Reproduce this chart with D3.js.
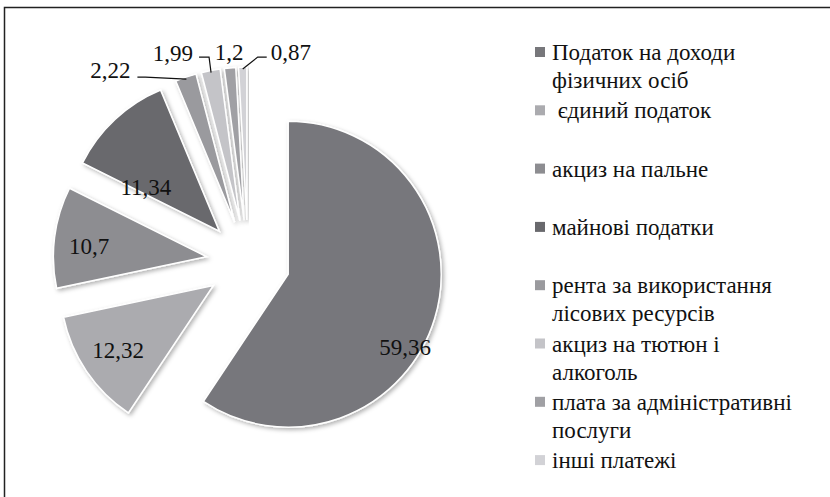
<!DOCTYPE html>
<html>
<head>
<meta charset="utf-8">
<script src="https://cdn.jsdelivr.net/npm/d3@7"></script>
</head>
<body style="margin:0">
<svg id="chart" width="830" height="497"></svg>
<script>
const categories = [
    'Податок на доходи фізичних осіб', ' єдиний податок', 'акциз на пальне', 'майнові податки',
    'рента за використання лісових ресурсів', 'акциз на тютюн і алкоголь',
    'плата за адміністративні послуги', 'інші платежі'
];
// legend wraps as in the original
const legendLines = [
    ['Податок на доходи', 'фізичних осіб'], ['\u00a0єдиний податок'], ['акциз на пальне'], ['майнові податки'],
    ['рента за використання', 'лісових ресурсів'], ['акциз на тютюн і', 'алкоголь'],
    ['плата за адміністративні', 'послуги'], ['інші платежі']
];
const values = [59.36, 12.32, 10.7, 11.34, 2.22, 1.99, 1.2, 0.87];
const valueLabels = ['59,36', '12,32', '10,7', '11,34', '2,22', '1,99', '1,2', '0,87'];
const colors = ['#77777b', '#ababaf', '#8d8d91', '#69696d', '#9a9a9e', '#c4c4c8', '#a0a0a4', '#d2d2d6'];

const FONT = 'Liberation Serif';
const svg = d3.select('#chart').style('display', 'block');
const [cx, cy] = [248, 262];
const radius = 153;
const explode = 42;

// frame
svg.append('rect')
    .attr('x', 4.5).attr('y', 7.5).attr('width', 840).attr('height', 500)
    .attr('fill', 'none').attr('stroke', '#222').attr('stroke-width', 1.5);

const defs = svg.append('defs');
defs.append('filter').attr('id', 'shadow')
    .attr('x', '-20%').attr('y', '-20%').attr('width', '140%').attr('height', '140%')
    .append('feDropShadow')
    .attr('dx', 2).attr('dy', 2).attr('stdDeviation', 2)
    .attr('flood-color', '#000').attr('flood-opacity', 0.3);

const pie = d3.pie().sort(null).value(d => d)(values);
const arc = d3.arc().innerRadius(0).outerRadius(radius);

const dir = a => [Math.sin(a), -Math.cos(a)];
const mid = d => (d.startAngle + d.endAngle) / 2;

const g = svg.append('g').attr('transform', `translate(${cx},${cy})`);

const slices = g.selectAll('g.slice')
    .data(pie)
    .join('g')
    .attr('class', 'slice')
    .attr('transform', d => {
        const [x, y] = dir(mid(d));
        return `translate(${x * explode},${y * explode})`;
    });

slices.append('path')
    .attr('d', arc)
    .attr('fill', (d, i) => colors[i])
    .attr('stroke', '#fff')
    .attr('stroke-width', 1.5)
    .attr('filter', 'url(#shadow)');

// label placement: inside ones along the bisector (fraction of radius, angle shift in degrees),
// outside ones offset from the rim point, with a leader line back to it
const labelLayout = [
    {k: 0.9, rot: 15}, {k: 0.75, rot: 0}, {k: 0.77, rot: -2}, {k: 0.56, rot: -16},
    {dx: -56, dy: -9, anchor: 'end', leader: [[-49, -2], [-41, -2]]},
    {dx: -18, dy: -20, anchor: 'end', leader: [[-12, -15.5], [-2, -15.5]]},
    {dx: -1, dy: -18, anchor: 'middle', leader: null},
    {dx: 28, dy: -17, anchor: 'start', leader: [[24, -12], [15, -12]]}
];

slices.each(function (d, i) {
    const s = d3.select(this);
    const L = labelLayout[i];
    const a = mid(d);
    const label = s.append('text')
        .attr('font-family', FONT)
        .style('font-family', `"${FONT}"`)
        .attr('font-size', 23)
        .attr('fill', '#111')
        .attr('dy', '0.35em')
        .text(valueLabels[i]);
    if (L.k !== undefined) {
        const [x, y] = dir(a + L.rot * Math.PI / 180);
        label.attr('x', x * radius * L.k)
            .attr('y', y * radius * L.k)
            .attr('text-anchor', 'middle');
    } else {
        const [ox, oy] = dir(a).map(v => v * (radius - 2));
        if (L.leader) {
            const pts = [[ox + L.leader[0][0], oy + L.leader[0][1]],
                         [ox + L.leader[1][0], oy + L.leader[1][1]],
                         [ox, oy]];
            s.append('path')
                .attr('d', d3.line()(pts))
                .attr('fill', 'none')
                .attr('stroke', '#111')
                .attr('stroke-width', 1.2);
        }
        label.attr('x', ox + L.dx)
            .attr('y', oy + L.dy)
            .attr('text-anchor', L.anchor);
    }
});

// legend
const legend = svg.append('g').attr('transform', 'translate(535,52)');
const items = legend.selectAll('g.item')
    .data(categories)
    .join('g')
    .attr('class', 'item')
    .attr('transform', (d, i) => `translate(0,${i * 58.3})`);

items.append('rect')
    .attr('x', 0).attr('y', -5).attr('width', 10).attr('height', 10)
    .attr('fill', (d, i) => colors[i]);

items.append('text')
    .attr('x', 17)
    .attr('font-family', FONT)
    .style('font-family', `"${FONT}"`)
    .attr('font-size', 23)
    .attr('fill', '#111')
    .selectAll('tspan')
    .data((d, i) => legendLines[i])
    .join('tspan')
    .attr('x', 17)
    .attr('y', (d, j) => 8 + j * 28)
    .text(d => d);
</script>
</body>
</html>
